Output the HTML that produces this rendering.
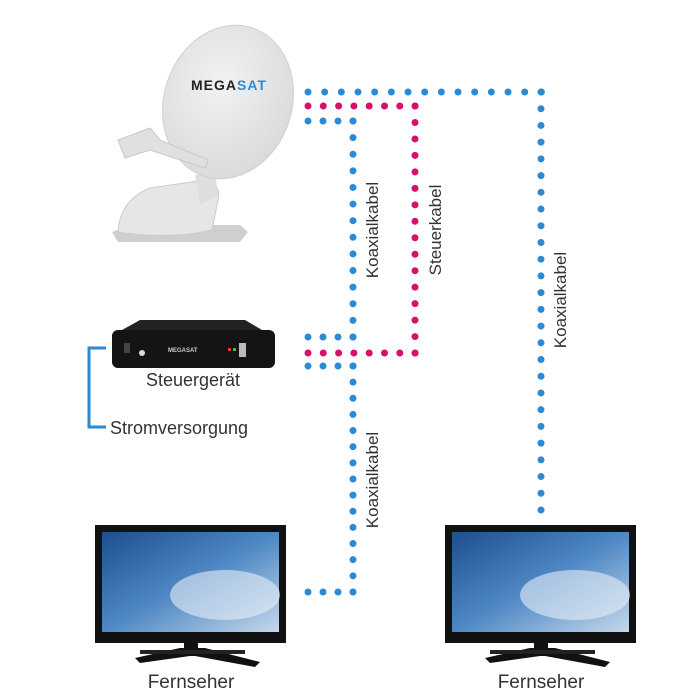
<!DOCTYPE html>
<html><head><style>
html,body{margin:0;padding:0;background:#fff;width:700px;height:700px;overflow:hidden}
svg{display:block}
text{font-family:"Liberation Sans",sans-serif;fill:#333}
</style></head><body>
<svg width="700" height="700" viewBox="0 0 700 700" xmlns="http://www.w3.org/2000/svg">
<defs>
<linearGradient id="sky" x1="0" y1="0" x2="1" y2="1">
<stop offset="0" stop-color="#1c4f8f"/><stop offset="0.5" stop-color="#4f88c4"/><stop offset="1" stop-color="#c4d8ec"/>
</linearGradient>
<radialGradient id="dish" cx="0.4" cy="0.4" r="0.7">
<stop offset="0" stop-color="#f2f2f2"/><stop offset="1" stop-color="#d8d8d8"/>
</radialGradient>
</defs>
<!-- dish -->
<polygon points="112,232 130,225 240,225 248,232 240,242 118,242" fill="#cfcfcf"/>
<path d="M118,232 Q120,200 150,188 L205,180 Q222,185 218,200 L212,230 Q170,240 118,232Z" fill="#e6e6e6" stroke="#ccc"/>
<path d="M195,175 L215,172 L218,195 L200,205Z" fill="#dedede"/>
<ellipse cx="228" cy="102" rx="64" ry="78" transform="rotate(18 228 102)" fill="url(#dish)" stroke="#d0d0d0"/>
<path d="M118,140 L150,128 L160,140 L208,160 L205,168 L150,150 L125,158 Z" fill="#e0e0e0" stroke="#c8c8c8"/>
<text x="191" y="90" font-size="14" font-weight="bold" fill="#222" style="fill:#222;letter-spacing:1px">MEGA<tspan style="fill:#2d8ad8">SAT</tspan></text>
<!-- control box -->
<path d="M122,330 L140,320 L245,320 L262,330Z" fill="#222"/>
<rect x="112" y="330" width="163" height="38" rx="6" fill="#141414"/>
<rect x="124" y="343" width="6" height="10" fill="#444"/>
<circle cx="142" cy="353" r="3" fill="#ddd"/>
<text x="168" y="352" font-size="6" font-weight="bold" style="fill:#ccc">MEGASAT</text>
<rect x="228" y="348" width="3" height="3" fill="#e33"/><rect x="233" y="348" width="3" height="3" fill="#3c3"/>
<rect x="239" y="343" width="7" height="14" fill="#bbb"/>
<text x="193" y="386" font-size="18" text-anchor="middle">Steuergerät</text>
<path d="M106,348 H89 V427 H106" fill="none" stroke="#2b8ad6" stroke-width="3"/>
<text x="110" y="434" font-size="18">Stromversorgung</text>
<!-- TVs -->
<g>
<rect x="95" y="525" width="191" height="118" fill="#111"/>
<rect x="102" y="532" width="177" height="100" fill="url(#sky)"/>
<ellipse cx="225" cy="595" rx="55" ry="25" fill="#e6eef6" opacity="0.6"/>
<rect x="184" y="643" width="14" height="10" fill="#111"/>
<path d="M135,658 L180,648 L205,648 L260,662 L255,667 L195,656 L190,656 L140,663Z" fill="#111"/>
<path d="M140,650 L245,650 L245,654 L140,654Z" fill="#222"/>
<text x="191" y="688" font-size="19" text-anchor="middle">Fernseher</text>
</g>
<g>
<rect x="445" y="525" width="191" height="118" fill="#111"/>
<rect x="452" y="532" width="177" height="100" fill="url(#sky)"/>
<ellipse cx="575" cy="595" rx="55" ry="25" fill="#e6eef6" opacity="0.6"/>
<rect x="534" y="643" width="14" height="10" fill="#111"/>
<path d="M485,658 L530,648 L555,648 L610,662 L605,667 L545,656 L540,656 L490,663Z" fill="#111"/>
<path d="M490,650 L595,650 L595,654 L490,654Z" fill="#222"/>
<text x="541" y="688" font-size="19" text-anchor="middle">Fernseher</text>
</g>
<!-- dotted cables -->
<g fill="none" stroke-width="7" stroke-linecap="round">
<path d="M308,92 H541.5" stroke="#2b8ad6" stroke-dasharray="0 16.67"/>
<path d="M541,92 V510" stroke="#2b8ad6" stroke-dasharray="0 16.72"/>
<path d="M308,106 H415.5" stroke="#d6106b" stroke-dasharray="0 15.3"/>
<path d="M415,106 V353.5" stroke="#d6106b" stroke-dasharray="0 16.47"/>
<path d="M308,353 H415.5" stroke="#d6106b" stroke-dasharray="0 15.3"/>
<path d="M308,121 H353.5" stroke="#2b8ad6" stroke-dasharray="0 15"/>
<path d="M353,121 V337.5" stroke="#2b8ad6" stroke-dasharray="0 16.615"/>
<path d="M353,366 V592.5" stroke="#2b8ad6" stroke-dasharray="0 16.14"/>
<path d="M308,337 H353.5" stroke="#2b8ad6" stroke-dasharray="0 15"/>
<path d="M308,366 H353.5" stroke="#2b8ad6" stroke-dasharray="0 15"/>
<path d="M308,592 H353.5" stroke="#2b8ad6" stroke-dasharray="0 15"/>
</g>
<text transform="translate(378,230) rotate(-90)" font-size="17" text-anchor="middle">Koaxialkabel</text>
<text transform="translate(441,230) rotate(-90)" font-size="17" text-anchor="middle">Steuerkabel</text>
<text transform="translate(566,300) rotate(-90)" font-size="17" text-anchor="middle">Koaxialkabel</text>
<text transform="translate(378,480) rotate(-90)" font-size="17" text-anchor="middle">Koaxialkabel</text>
</svg>
</body></html>
